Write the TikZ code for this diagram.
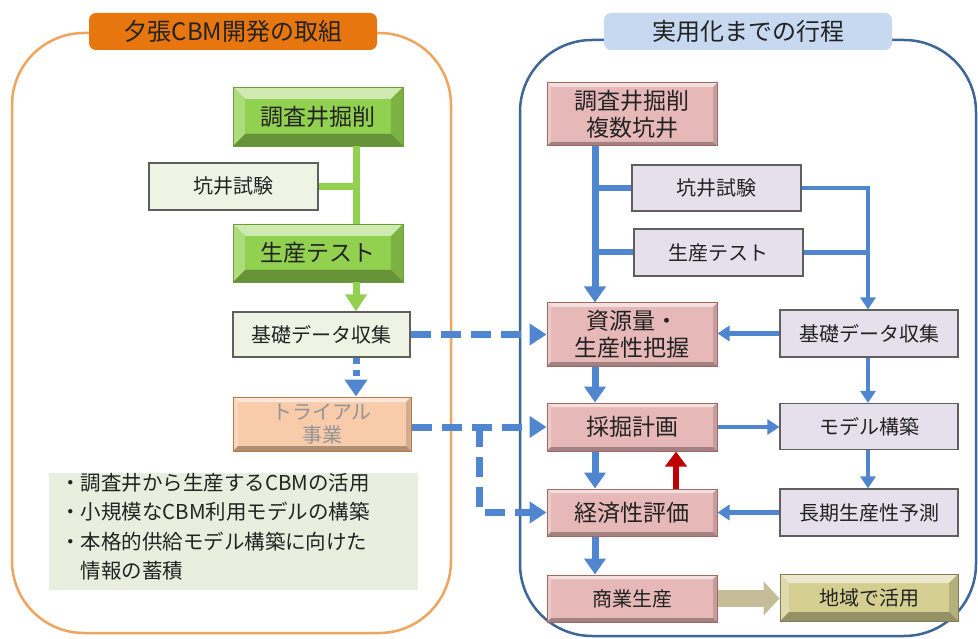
\documentclass[tikz,border=0pt]{standalone}
\usepackage{fontspec}
\setmainfont{Noto Sans CJK JP}
\usetikzlibrary{arrows.meta}
\definecolor{ctext}{RGB}{35,35,35}
\definecolor{corange}{RGB}{232,118,15}
\definecolor{corline}{RGB}{240,165,95}
\definecolor{cbline}{RGB}{62,102,150}
\definecolor{cbtitle}{RGB}{198,217,240}
\definecolor{cgreen}{RGB}{146,208,80}
\definecolor{clight}{RGB}{238,243,228}
\definecolor{cnote}{RGB}{233,238,222}
\definecolor{cgrayline}{RGB}{95,95,95}
\definecolor{cpink}{RGB}{230,185,184}
\definecolor{cpinkline}{RGB}{160,105,95}
\definecolor{clav}{RGB}{229,224,236}
\definecolor{cpeach}{RGB}{248,203,170}
\definecolor{cpeachline}{RGB}{185,120,70}
\definecolor{ckhaki}{RGB}{196,189,151}
\definecolor{colive}{RGB}{212,207,145}
\definecolor{cblue}{RGB}{79,134,207}
\definecolor{cred}{RGB}{192,0,0}
\newcommand{\bevelpic}[2]{%
  \path (path picture bounding box.north west) coordinate (bvA)
        (path picture bounding box.north east) coordinate (bvB)
        (path picture bounding box.south east) coordinate (bvC)
        (path picture bounding box.south west) coordinate (bvD);
  \fill[#2!45!white] (bvA) -- (bvB) -- ([xshift=-#1pt,yshift=-#1pt]bvB) -- ([xshift=#1pt,yshift=-#1pt]bvA) -- cycle;
  \fill[#2!75!white] (bvA) -- (bvD) -- ([xshift=#1pt,yshift=#1pt]bvD) -- ([xshift=#1pt,yshift=-#1pt]bvA) -- cycle;
  \fill[#2!85!black] (bvB) -- (bvC) -- ([xshift=-#1pt,yshift=#1pt]bvC) -- ([xshift=-#1pt,yshift=-#1pt]bvB) -- cycle;
  \fill[#2!70!black] (bvD) -- (bvC) -- ([xshift=-#1pt,yshift=#1pt]bvC) -- ([xshift=#1pt,yshift=#1pt]bvD) -- cycle;
}
\tikzset{
  bevel/.style 2 args={path picture={\bevelpic{#1}{#2}}},
  basebox/.style={inner sep=0pt, align=center, text=ctext},
  greenbox/.style={basebox, fill=cgreen, draw=cgreen!75!black, line width=0.6pt, bevel={12}{cgreen}, font=\fontsize{23}{27}\selectfont},
  lightbox/.style={basebox, fill=clight, draw=cgrayline, line width=1.2pt, font=\fontsize{20}{24}\selectfont},
  pinkbox/.style={basebox, fill=cpink, draw=cpinkline, line width=1pt, bevel={4}{cpink}, font=\fontsize{23}{27}\selectfont},
  lavbox/.style={basebox, fill=clav, draw=cgrayline, line width=1.2pt, font=\fontsize{20}{24}\selectfont},
  peachbox/.style={basebox, fill=cpeach, draw=cpeachline, line width=1pt, bevel={5}{cpeach}, font=\fontsize{20}{23}\selectfont, text=black!42},
  olivebox/.style={basebox, fill=colive, draw=colive!60!black, line width=0.8pt, bevel={9}{colive}, font=\fontsize{20}{24}\selectfont},
  titlebox/.style={basebox, rounded corners=7pt, minimum width=288pt, minimum height=37pt, font=\fontsize{24}{28}\selectfont},
  greenline/.style={draw=cgreen, line width=7pt},
  trunkline/.style={draw=cblue, line width=7pt},
  trunkarrow/.style={trunkline, -{Triangle[width=21pt,length=16pt]}},
  branchline/.style={draw=cblue, line width=6pt},
  thinline/.style={draw=cblue, line width=4.5pt},
  thinarrow/.style={thinline, -{Triangle[width=15pt,length=12pt]}},
  dashblue/.style={draw=cblue, line width=7pt, dash pattern=on 20pt off 10pt},
  dotblue/.style={draw=cblue, line width=7pt, dash pattern=on 6pt off 6pt},
  redarrow/.style={draw=cred, line width=6pt, -{Triangle[width=21pt,length=15pt]}},
  khakiarrow/.style={draw=ckhaki, line width=17pt, -{Triangle[width=33pt,length=16pt]}},
}
\begin{document}
\begin{tikzpicture}[x=1pt,y=-1pt]
\useasboundingbox (0,0) rectangle (978,639);
\fill[white] (0,0) rectangle (978,639);

% panels
\draw[corline, line width=2.5pt, rounded corners=72pt] (12,33) rectangle (451,633);
\draw[cbline, line width=2.5pt, rounded corners=72pt] (520,40) rectangle (976,636);
\node[titlebox, fill=corange] (T1) at (233,31.5) {夕張CBM開発の取組};
\node[titlebox, fill=cbtitle] (T2) at (748,31.5) {実用化までの行程};

% left column
\node[greenbox, minimum width=170pt, minimum height=59pt] (L1) at (318,116.5) {調査井掘削};
\node[lightbox, minimum width=169pt, minimum height=47pt] (L2) at (233.5,186.5) {坑井試験};
\node[greenbox, minimum width=170pt, minimum height=58pt] (L3) at (318,253) {生産テスト};
\node[lightbox, minimum width=177pt, minimum height=45pt] (L4) at (321.5,334.5) {基礎データ収集};
\node[peachbox, minimum width=178pt, minimum height=54pt] (L5) at (322,424) {トライアル\\事業};
\node[basebox, fill=cnote, minimum width=369pt, minimum height=115pt, text width=347pt, align=left,
      font=\fontsize{20.5}{29.5}\selectfont] (N) at (233.5,531.5)
  {・調査井から生産するCBMの活用\\・小規模なCBM利用モデルの構築\\・本格的供給モデル構築に向けた\\\hspace*{1em}情報の蓄積\par\kern10pt};

% right column
\node[pinkbox, minimum width=170pt, minimum height=63pt] (R1) at (632,114.5) {調査井掘削\\複数坑井};
\node[lavbox, minimum width=169pt, minimum height=46pt] (R2) at (716.5,188) {坑井試験};
\node[lavbox, minimum width=169pt, minimum height=47pt] (R3) at (718.5,252.5) {生産テスト};
\node[pinkbox, minimum width=170pt, minimum height=63pt] (R4) at (632,334.5) {資源量・\\生産性把握};
\node[lavbox, minimum width=178pt, minimum height=47pt] (R5) at (869,333.5) {基礎データ収集};
\node[pinkbox, minimum width=170pt, minimum height=48pt] (R6) at (632,427) {採掘計画};
\node[lavbox, minimum width=178pt, minimum height=46pt] (R7) at (869,426.5) {モデル構築};
\node[pinkbox, minimum width=170pt, minimum height=47pt] (R8) at (632,512.5) {経済性評価};
\node[lavbox, minimum width=178pt, minimum height=47pt] (R9) at (869,512.5) {長期生産性予測};
\node[pinkbox, minimum width=170pt, minimum height=47pt, font=\fontsize{20}{24}\selectfont] (R10) at (632,598.5) {商業生産};
\node[olivebox, minimum width=178pt, minimum height=47pt] (R11) at (869,597.5) {地域で活用};

% coordinates for vertical runs
\coordinate (gx) at (356,0);
\coordinate (dx) at (479,0);
\coordinate (tx) at (595,0);
\coordinate (rx) at (868,0);
\coordinate (redx) at (676,0);

% left connectors
\draw[greenline] (L1.south -| gx) -- (L3.north -| gx);
\draw[greenline] (L2.east) -- (L2.east -| gx);
\draw[greenline, -{Triangle[width=21pt,length=17pt]}] (L3.south -| gx) -- (L4.north -| gx);
\draw[dotblue, -{Triangle[width=22pt,length=17pt]}] (L4.south -| gx) -- (L5.north -| gx);

% dashed cross connectors
\draw[dashblue, -{Triangle[width=21pt,length=17pt]}] (L4.east) -- (R4.west |- L4.east);
\draw[dashblue, -{Triangle[width=21pt,length=17pt]}] (L5.east |- R6.west) -- (R6.west);
\draw[dashblue, rounded corners=3pt, -{Triangle[width=21pt,length=17pt]}] (dx |- R6.west) |- (R8.west);

% right connectors
\draw[trunkarrow] (R1.south -| tx) -- (R4.north -| tx);
\draw[branchline] (R2.west) -- (R2.west -| tx);
\draw[branchline] (R3.west) -- (R3.west -| tx);
\draw[thinarrow] (R2.east) -| (R5.north -| rx);
\draw[thinline] (R3.east) -- (R3.east -| rx);
\draw[thinarrow] (R5.west) -- (R4.east |- R5.west);
\draw[trunkarrow] (R4.south -| tx) -- (R6.north -| tx);
\draw[thinarrow] (R5.south -| rx) -- (R7.north -| rx);
\draw[thinarrow] (R6.east) -- (R7.west |- R6.east);
\draw[trunkarrow] (R6.south -| tx) -- (R8.north -| tx);
\draw[redarrow] (R8.north -| redx) -- (R6.south -| redx);
\draw[thinarrow] (R7.south -| rx) -- (R9.north -| rx);
\draw[thinarrow] (R9.west) -- (R8.east |- R9.west);
\draw[trunkarrow] (R8.south -| tx) -- (R10.north -| tx);
\draw[khakiarrow] (R10.east) -- (R11.west |- R10.east);
\end{tikzpicture}
\end{document}
